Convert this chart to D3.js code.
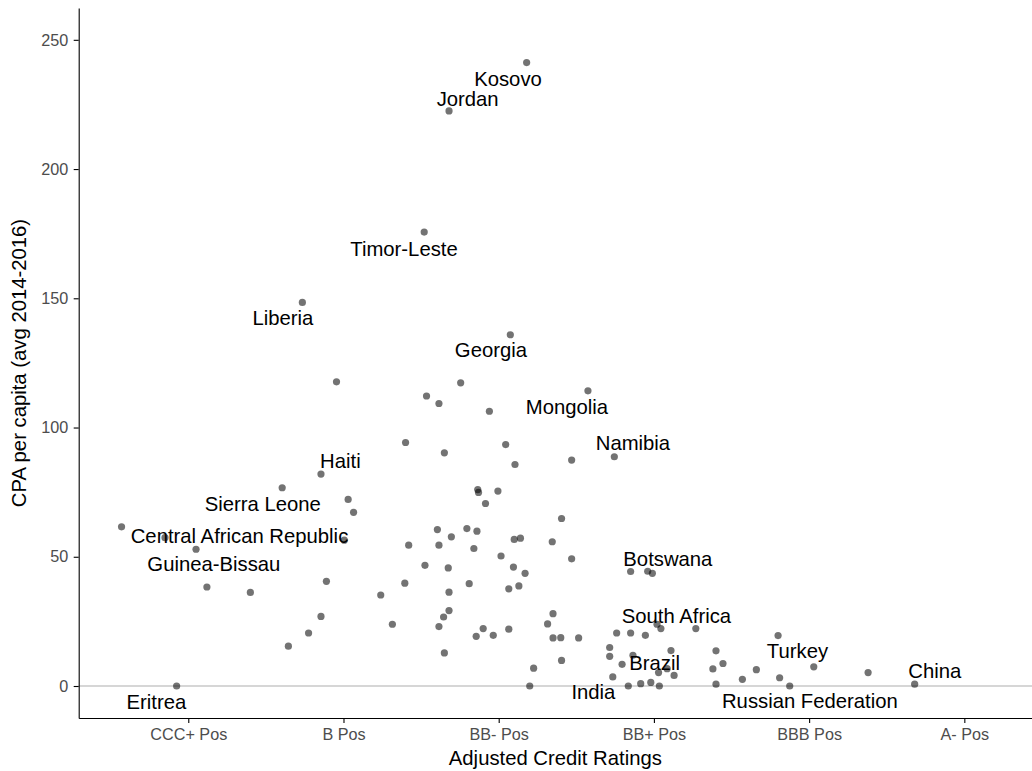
<!DOCTYPE html>
<html>
<head>
<meta charset="utf-8">
<script src="https://cdn.jsdelivr.net/npm/d3@7"></script>
<style>
  body { margin: 0; background: #fff; }
  svg { font-family: "Liberation Sans", Arial, sans-serif; }
  .axis path, .axis line { stroke: #000; stroke-width: 1.1px; }
  .axis text { fill: #4d4d4d; font-size: 16.2px; }
</style>
</head>
<body>
<div id="chart"></div>
<script>
// x ticks: rating score (in notches) and the tick labels
var ratingTicks = [0, 2, 4, 6, 8, 10];
var ratingLabels = ['CCC+ Pos', 'B Pos', 'BB- Pos', 'BB+ Pos', 'BBB Pos', 'A- Pos'];
var cpaTicks = [0, 50, 100, 150, 200, 250];

// every country: jittered rating score and CPA per capita
var pointScore = [
  4.36, 3.36, 3.04, 1.47, 4.15, 1.91, 3.51, 3.07, 3.23, 3.88,
  5.15, 2.80, 3.30, 4.09, 4.21, 4.94, 5.49, 1.71, 1.21, 2.06,
  2.13, 3.73, 3.74, 3.99, 3.83, -0.86, -0.30, 0.10, 2.01, 3.21,
  3.39, 2.84, 3.23, 3.59, 3.72, 3.68, 4.20, 4.28, 4.69, 4.81,
  4.03, 3.05, 3.35, 4.19, 4.34, 4.94, 0.24, 0.80, 1.78, 2.48,
  2.79, 3.36, 3.62, 4.13, 4.26, 1.71, 1.55, 1.29, 2.63, 3.29,
  3.23, 3.36, 3.30, -0.15, 3.80, 3.71, 3.93, 4.13, 4.70, 4.63,
  4.70, 4.80, 5.03, 4.81, 4.45, 4.40, 5.70, 5.92, 5.98, 5.52,
  5.70, 5.89, 6.04, 6.09, 6.54, 5.43, 5.43, 5.73, 5.59, 6.22,
  6.06, 6.17, 6.26, 5.47, 5.67, 5.83, 5.96, 6.07, 6.80, 6.89,
  6.76, 6.80, 7.14, 7.32, 7.60, 7.62, 7.75, 8.06, 8.76, 9.36
];
var pointCpa = [
  241.2, 222.5, 175.6, 148.4, 135.9, 117.7, 117.3, 112.2, 109.3, 106.3,
  114.2, 94.2, 90.2, 93.4, 85.7, 87.4, 88.7, 82.0, 76.7, 72.2,
  67.2, 76.0, 74.9, 75.4, 70.6, 61.6, 57.4, 52.9, 56.4, 60.5,
  57.7, 54.5, 54.5, 60.9, 59.9, 53.2, 56.7, 57.2, 55.8, 64.8,
  50.3, 46.7, 45.7, 46.0, 43.6, 49.2, 38.3, 36.2, 40.5, 35.2,
  39.8, 36.3, 39.6, 37.6, 38.7, 26.9, 20.5, 15.4, 23.9, 26.7,
  23.0, 29.2, 12.8, 0.0, 22.2, 19.2, 19.6, 22.0, 28.0, 24.0,
  18.6, 18.7, 18.6, 9.9, 6.9, 0.0, 44.3, 44.4, 43.6, 20.5,
  20.5, 19.6, 23.9, 22.2, 22.2, 14.9, 11.5, 11.9, 8.4, 13.7,
  5.2, 6.7, 4.1, 3.5, 0.0, 0.9, 1.4, 0.0, 13.6, 8.7,
  6.6, 0.7, 2.6, 6.3, 19.5, 3.2, 0.0, 7.4, 5.2, 0.7
];

// labelled countries and where their (repelled) labels sit
var labelNames = ['Kosovo', 'Jordan', 'Timor-Leste', 'Liberia', 'Georgia', 'Mongolia',
  'Namibia', 'Haiti', 'Sierra Leone', 'Central African Republic', 'Guinea-Bissau',
  'Eritrea', 'Botswana', 'South Africa', 'Brazil', 'India', 'Turkey', 'China',
  'Russian Federation'];
var labelScore = [4.12, 3.60, 2.78, 1.22, 3.90, 4.88, 5.73, 1.96, 0.96, 0.66, 0.33,
  -0.41, 6.18, 6.29, 6.01, 5.22, 7.85, 9.62, 8.01];
var labelCpa = [234.8, 227.1, 169.3, 142.4, 130.0, 108.1, 94.2, 87.1, 70.6, 58.0, 47.2,
  -6.2, 49.3, 27.3, 8.9, -2.3, 13.7, 6.0, -5.8];

var points = pointScore.map(function(s, i) { return {score: s, cpa: pointCpa[i]}; });
var labels = labelNames.map(function(n, i) {
  return {name: n, score: labelScore[i], cpa: labelCpa[i]};
});

var W = 1032, H = 771;
// panel edges in pixels
var panel = {left: 78.7, right: 1032, top: 8, bottom: 718};

var svg = d3.select('#chart').append('svg')
            .attr('width', W)
            .attr('height', H);

var xScale = d3.scaleLinear().domain([-1.412, 10.872]).range([panel.left, panel.right]);
var yScale = d3.scaleLinear().domain([-12.38, 262.31]).range([panel.bottom, panel.top]);

// zero reference line
svg.append('line')
   .attr('x1', panel.left).attr('x2', panel.right)
   .attr('y1', yScale(0)).attr('y2', yScale(0))
   .attr('stroke', '#c9c9c9')
   .attr('stroke-width', 1.4);

// axes
svg.append('g')
   .attr('class', 'axis axis--x')
   .attr('transform', 'translate(0,' + panel.bottom + ')')
   .call(d3.axisBottom(xScale)
           .tickValues(ratingTicks)
           .tickFormat(function(d, i) { return ratingLabels[i]; })
           .tickSize(5).tickSizeOuter(0).tickPadding(5.6));

svg.append('g')
   .attr('class', 'axis axis--y')
   .attr('transform', 'translate(' + panel.left + ',0)')
   .call(d3.axisLeft(yScale)
           .tickValues(cpaTicks)
           .tickSize(5).tickSizeOuter(0).tickPadding(5.4));

// points
svg.append('g').selectAll('circle')
   .data(points)
   .enter().append('circle')
   .attr('cx', function(d) { return xScale(d.score); })
   .attr('cy', function(d) { return yScale(d.cpa); })
   .attr('r', 3.6)
   .attr('fill', '#000')
   .attr('fill-opacity', 0.55);

// country labels
svg.append('g').selectAll('text')
   .data(labels)
   .enter().append('text')
   .attr('x', function(d) { return xScale(d.score); })
   .attr('y', function(d) { return yScale(d.cpa); })
   .attr('dy', '0.36em')
   .attr('text-anchor', 'middle')
   .attr('font-size', '20.3px')
   .attr('fill', '#000')
   .text(function(d) { return d.name; });

// axis titles
svg.append('text')
   .attr('text-anchor', 'middle')
   .attr('x', (panel.left + panel.right) / 2)
   .attr('y', 765)
   .attr('font-size', '20.3px')
   .text('Adjusted Credit Ratings');

svg.append('text')
   .attr('text-anchor', 'middle')
   .attr('transform', 'translate(26,' + (panel.top + panel.bottom) / 2 + ')rotate(-90)')
   .attr('font-size', '20.3px')
   .text('CPA per capita (avg 2014-2016)');
</script>
</body>
</html>
